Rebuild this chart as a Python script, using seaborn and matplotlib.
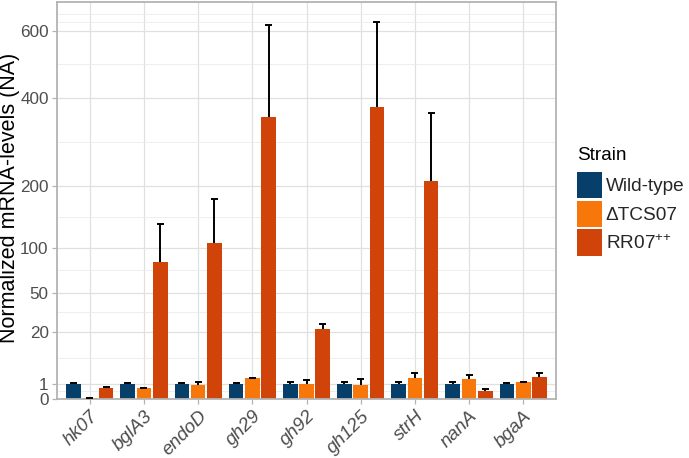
import numpy as np
import pandas as pd
import matplotlib
matplotlib.use("Agg")
import matplotlib.pyplot as plt
import seaborn as sns

# ---- data ----
genes = ["hk07", "bglA3", "endoD", "gh29", "gh92", "gh125", "strH", "nanA", "bgaA"]
strains = ["Wild-type", "ΔTCS07", r"$\mathregular{RR07^{+\!+}}$"]
colors = ["#073F6B", "#F7770A", "#D0440A"]

wt_mean = [1.0, 1.0, 1.0, 1.0, 1.0, 1.0, 1.0, 1.0, 1.0]
wt_err = [0.05, 0.04, 0.04, 0.17, 0.28, 0.28, 0.28, 0.28, 0.06]
tcs_mean = [0.003, 0.5, 0.82, 1.88, 1.0, 0.87, 1.95, 1.77, 1.22]
tcs_err = [0.002, 0.06, 0.5, 0.05, 0.6, 0.83, 0.95, 0.69, 0.08]
rr_mean = [0.47, 83, 107, 352, 21.7, 378, 209, 0.28, 2.2]
rr_err = [0.17, 52, 70, 268, 3.2, 252, 153, 0.16, 0.7]

y_breaks = [0, 1, 20, 50, 100, 200, 400, 600]
y_minor_sqrt = [0.5, 2.74, 5.77, 8.54, 12.07, 17.07, 22.25, 25.04, 25.57]
y_top = 698.6

means = [wt_mean, tcs_mean, rr_mean]
errs = [wt_err, tcs_err, rr_err]

df = pd.DataFrame({
    "gene": genes * 3,
    "strain": [s for s in strains for _ in genes],
    "value": wt_mean + tcs_mean + rr_mean,
    "err": wt_err + tcs_err + rr_err,
})

sns.set_theme(style="white")
plt.rcParams["font.family"] = ["Liberation Sans", "DejaVu Sans"]
plt.rcParams["mathtext.fontset"] = "custom"
plt.rcParams["mathtext.rm"] = "Liberation Sans"

fig = plt.figure(figsize=(6.89, 4.58), dpi=100)
ax = fig.add_axes([57.3 / 689, 1 - 398.8 / 458, (555.7 - 57.3) / 689, (398.8 - 1.5) / 458])

sns.barplot(data=df, x="gene", y="value", hue="strain", order=genes, hue_order=strains,
            palette=colors, width=0.9, gap=0.1, errorbar=None, linewidth=0,
            saturation=1, ax=ax)

# error bars (upper only)
for j, cont in enumerate(ax.containers):
    xs = np.array([p.get_x() + p.get_width() / 2 for p in cont])
    m = np.array(means[j])
    e = np.array(errs[j])
    ax.vlines(xs, m, m + e, color="black", lw=1.4, zorder=4)
    ax.hlines(m + e, xs - 0.065, xs + 0.065, color="black", lw=1.4, zorder=4)

ax.set_yscale("function", functions=(lambda v: np.sqrt(np.clip(v, 0, None)),
                                     lambda v: np.square(v)))
ax.set_ylim(0, y_top)
ax.set_xlim(-0.6, len(genes) - 0.4)
ax.set_yticks(y_breaks)
ax.set_yticklabels([str(b) for b in y_breaks])
ax.set_yticks([t ** 2 for t in y_minor_sqrt], minor=True)
ax.tick_params(axis="y", which="minor", length=0)

ax.set_axisbelow(True)
ax.grid(True, which="major", color="#E0E0E0", lw=0.9)
ax.grid(True, which="minor", axis="y", color="#EBEBEB", lw=0.6)

for s in ax.spines.values():
    s.set_visible(True)
    s.set_color("#B3B3B3")
    s.set_linewidth(1.3)

ax.tick_params(axis="both", which="major", length=3.7, width=0.9, color="#B3B3B3",
               labelcolor="#4D4D4D", pad=2.5, left=True, bottom=True)
ax.tick_params(axis="y", labelsize=12.3)
ax.tick_params(axis="x", labelsize=13.6, pad=2.5)
plt.setp(ax.get_xticklabels(), rotation=45, ha="right", va="top",
         rotation_mode="anchor", style="italic")

ax.set_xlabel("")
ax.set_ylabel("Normalized mRNA-levels (NA)", fontsize=15.5, color="black")
ax.yaxis.label.set_va("baseline")
ax.yaxis.set_label_coords((15 - 57.3) / 498.4, (398.8 - 197.5) / 397.3)

handles, labels = ax.get_legend_handles_labels()
if ax.legend_:
    ax.legend_.remove()
leg = fig.legend(handles, labels, loc="upper left",
                 bbox_to_anchor=(576.7 / 689, 1 - 171.7 / 458), frameon=False,
                 fontsize=13.7, handlelength=1.32, handleheight=1.77,
                 labelspacing=0.12, handletextpad=0.21, borderpad=0, borderaxespad=0)
fig.text(576.7 / 689, 1 - 160 / 458, "Strain", fontsize=13.7, va="baseline",
         ha="left", color="black")

fig.savefig("out.png", dpi=100)
